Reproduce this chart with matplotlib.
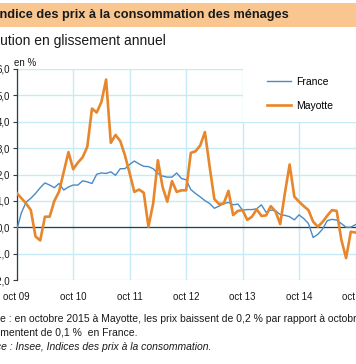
import matplotlib
matplotlib.use("Agg")
import matplotlib.pyplot as plt
import numpy as np
from matplotlib.patches import Rectangle

# monthly year-on-year change, oct 2009 .. oct 2015 (in %)
france = [-0.1, 0.55, 0.95, 1.1, 1.28, 1.5, 1.68, 1.6, 1.5, 1.66, 1.41, 1.53,
          1.6, 1.6, 1.76, 1.72, 1.66, 2.01, 2.06, 2.04, 2.1, 1.97, 2.22, 2.22,
          2.38, 2.51, 2.4, 2.31, 2.3, 2.22, 2.04, 1.94, 1.9, 1.9, 2.06, 1.85,
          1.8, 1.43, 1.28, 1.15, 1.01, 0.9, 0.72, 0.8, 0.9, 0.94, 0.85, 0.88,
          0.65, 0.67, 0.67, 0.7, 0.85, 0.57, 0.65, 0.63, 0.48, 0.45, 0.4, 0.28,
          0.47, 0.33, 0.14, -0.39, -0.27, -0.07, 0.25, 0.3, 0.27, 0.14, 0.0, 0.0,
          0.1]
mayotte = [1.3, 1.1, 0.9, 0.65, -0.35, -0.5, 0.4, 0.4, 1.0, 1.35, 2.1, 2.85,
           2.2, 2.45, 2.65, 3.05, 4.5, 4.35, 4.75, 5.6, 3.2, 3.5, 3.27, 2.73,
           2.05, 1.34, 1.43, 1.31, 0.02, 0.9, 2.54, 1.53, 0.97, 1.75, 1.34, 1.4,
           1.4, 2.82, 2.88, 3.1, 3.61, 2.3, 1.07, 0.88, 0.9, 1.38, 0.46, 0.62,
           0.65, 0.28, 0.4, 0.68, 0.43, 0.45, 0.8, 0.6, 0.12, 1.3, 2.38, 1.16,
           0.97, 0.8, 0.65, 0.21, 0.02, 0.2, 0.44, 0.65, 0.62, -0.48, -1.17, -0.17,
           -0.2]
year_labels = ["oct 09", "oct 10", "oct 11", "oct 12", "oct 13", "oct 14", "oct 15"]
y_ticks = [-2, -1, 0, 1, 2, 3, 4, 5, 6]

W, H = 356, 364
GRID = "#c4ebf6"
AXIS = "#3a3a3a"
BLUE = "#4a8bc6"
ORANGE = "#e8862b"
INK = "#1a1a1a"

plt.rcParams["font.family"] = ["Liberation Sans", "DejaVu Sans"]


def fx(x):
    return x / W


def fy(y):
    return 1 - y / H


fig = plt.figure(figsize=(W / 100, H / 100), dpi=100)
fig.patch.set_facecolor("white")

# title band (the source image is cropped on the left, so texts start off-canvas)
fig.patches.append(Rectangle((0, fy(27)), 1, (27 - 3) / H, transform=fig.transFigure,
                             facecolor="#f9c690", edgecolor="none", zorder=0))
fig.text(fx(-3.5), fy(15), "Indice des prix à la consommation des ménages",
         fontsize=9.2, fontweight="bold", va="center", ha="left", color=INK)
fig.text(fx(-27), fy(40), "Évolution en glissement annuel",
         fontsize=10, va="center", ha="left", color=INK)
fig.text(fx(14), fy(63), "en %", fontsize=7, va="center", ha="left", color=INK)

left, right, top, bottom = 16.7, 355.5, 69, 280
ax = fig.add_axes([fx(left), fy(bottom), (right - left) / W, (bottom - top) / H])
months = np.arange(len(france))
year_pos = months[::12]

ax.set_xlim(0, 72)
ax.set_ylim(-2, 6)
ax.set_xticks(year_pos)
ax.set_xticklabels(year_labels)
ax.set_yticks(y_ticks)
ax.set_yticklabels([f"{v:.1f}".replace(".", ",") for v in y_ticks])
ax.tick_params(axis="x", length=0, labelsize=7, pad=9, labelcolor=INK)
ax.tick_params(axis="y", length=3, width=0.8, color=AXIS, labelsize=7, pad=2,
               labelcolor=INK)
ax.grid(True, color=GRID, lw=1.0, zorder=0)
ax.set_axisbelow(True)
for s in ("top", "right", "bottom"):
    ax.spines[s].set_visible(False)
ax.spines["left"].set_color(AXIS)
ax.spines["left"].set_linewidth(0.9)

# zero axis with year ticks
ax.axhline(0, color=AXIS, lw=0.9, zorder=2)
sec = ax.secondary_xaxis(0.25)
sec.set_xticks(year_pos)
sec.set_xticklabels([])
sec.tick_params(direction="inout", length=4, width=0.8, color=AXIS)
sec.spines["bottom"].set_visible(False)

# white legend background hiding the grid
ax.add_patch(Rectangle((0.667, 0.75), 0.4, 0.3, transform=ax.transAxes,
                       facecolor="white", edgecolor="none", zorder=1))

ax.plot(months, france, color=BLUE, lw=1.0, zorder=3, label="France")
ax.plot(months, mayotte, color=ORANGE, lw=1.9, zorder=4, label="Mayotte")

ax.legend(loc="upper left", bbox_to_anchor=(fx(258), fy(68)),
          bbox_transform=fig.transFigure, frameon=False, fontsize=7.5,
          handlelength=2.3, handletextpad=0.55, labelspacing=1.35,
          borderpad=0.85, borderaxespad=0)

fig.text(fx(-16), fy(319),
         "Note : en octobre 2015 à Mayotte, les prix baissent de 0,2 % par rapport à octobre 2014, et",
         fontsize=7.5, va="center", ha="left", color=INK)
fig.text(fx(-17), fy(333), "augmentent de 0,1 %  en France.",
         fontsize=7.5, va="center", ha="left", color=INK)
fig.text(fx(-26), fy(347), "Source : Insee, Indices des prix à la consommation.",
         fontsize=7.5, va="center", ha="left", style="italic", color=INK)

fig.savefig("out.png", dpi=100, facecolor="white")
